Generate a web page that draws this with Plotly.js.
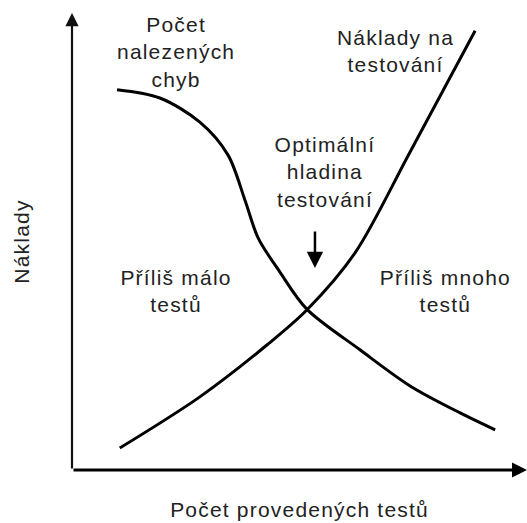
<!DOCTYPE html>
<html>
<head>
<meta charset="utf-8">
<script src="https://cdn.plot.ly/plotly-3.0.1.min.js"></script>
<style>
  html, body { margin: 0; padding: 0; background: #fff; }
  #chart { width: 527px; height: 523px; }
  .main-svg text { letter-spacing: 1.2px; }
</style>
</head>
<body>
<div id="chart"></div>
<script>
// Conceptual curves (arbitrary units: x = number of tests, y = cost)
var errorsX = [0.99, 1.93, 2.81, 3.43, 3.80, 4.09, 4.57, 5.16, 6.33, 7.43, 8.53, 9.30];
var errorsY = [8.32, 8.14, 7.61, 6.89, 5.91, 5.08, 4.33, 3.52, 2.63, 1.84, 1.25, 0.88];

var costsX = [1.05, 2.81, 4.29, 5.16, 6.22, 7.43, 8.86];
var costsY = [0.48, 1.60, 2.74, 3.50, 4.75, 6.96, 9.61];

var labelTexts = ['Počet<br>nalezených<br>chyb', 'Náklady na<br>testování', 'Optimální<br>hladina<br>testování', 'Příliš málo<br>testů', 'Příliš mnoho<br>testů'];
var labelX = [2.29, 7.12, 5.56, 2.29, 8.20];
var labelY = [9.15, 9.16, 6.53, 3.91, 3.91];

var optimumX = 5.34;
var optimumTipY = 4.42;
var optimumTailY = 5.25;

var xTitle = 'Počet provedených testů';
var yTitle = 'Náklady';

var FONT = 'Liberation Sans, Arial, sans-serif';
var textColor = '#222';

var traces = [
  { x: errorsX, y: errorsY, mode: 'lines', line: { color: '#000', width: 3, shape: 'spline', smoothing: 0.9 }, hoverinfo: 'skip', showlegend: false },
  { x: costsX, y: costsY, mode: 'lines', line: { color: '#000', width: 3, shape: 'spline', smoothing: 0.9 }, hoverinfo: 'skip', showlegend: false }
];

var annotations = [];
for (var i = 0; i < labelTexts.length; i++) {
  annotations.push({ x: labelX[i], y: labelY[i], xref: 'x', yref: 'y', text: labelTexts[i], showarrow: false,
    font: { family: FONT, size: 21, color: textColor }, align: 'center', xanchor: 'center', yanchor: 'middle' });
}
// optimum arrow
annotations.push({ x: optimumX, y: optimumTipY, ax: optimumX, ay: optimumTailY, xref: 'x', yref: 'y', axref: 'x', ayref: 'y',
  text: '', showarrow: true, arrowhead: 2, arrowsize: 1.3, arrowwidth: 2.5, arrowcolor: '#000' });
// axis arrows
annotations.push({ x: 10, y: 0, ax: 0, ay: 0, xref: 'x', yref: 'y', axref: 'x', ayref: 'y',
  text: '', showarrow: true, arrowhead: 2, arrowsize: 1, arrowwidth: 3, arrowcolor: '#000' });
annotations.push({ x: 0, y: 10, ax: 0, ay: 0, xref: 'x', yref: 'y', axref: 'x', ayref: 'y',
  text: '', showarrow: true, arrowhead: 2, arrowsize: 1.2, arrowwidth: 2.2, arrowcolor: '#111' });

var axisCommon = { showgrid: false, zeroline: false, showline: false, showticklabels: false, ticks: '', fixedrange: true };

var layout = {
  width: 527, height: 523,
  margin: { l: 72, r: 0, t: 13, b: 53 },
  paper_bgcolor: '#fff', plot_bgcolor: '#fff',
  showlegend: false,
  xaxis: Object.assign({}, axisCommon, { range: [0, 10], title: { text: xTitle, font: { family: FONT, size: 21, color: textColor }, standoff: 32 } }),
  yaxis: Object.assign({}, axisCommon, { range: [0, 10], title: { text: yTitle, font: { family: FONT, size: 21, color: textColor }, standoff: 35 } }),
  annotations: annotations
};

Plotly.newPlot('chart', traces, layout, { displayModeBar: false, staticPlot: true });
</script>
</body>
</html>
